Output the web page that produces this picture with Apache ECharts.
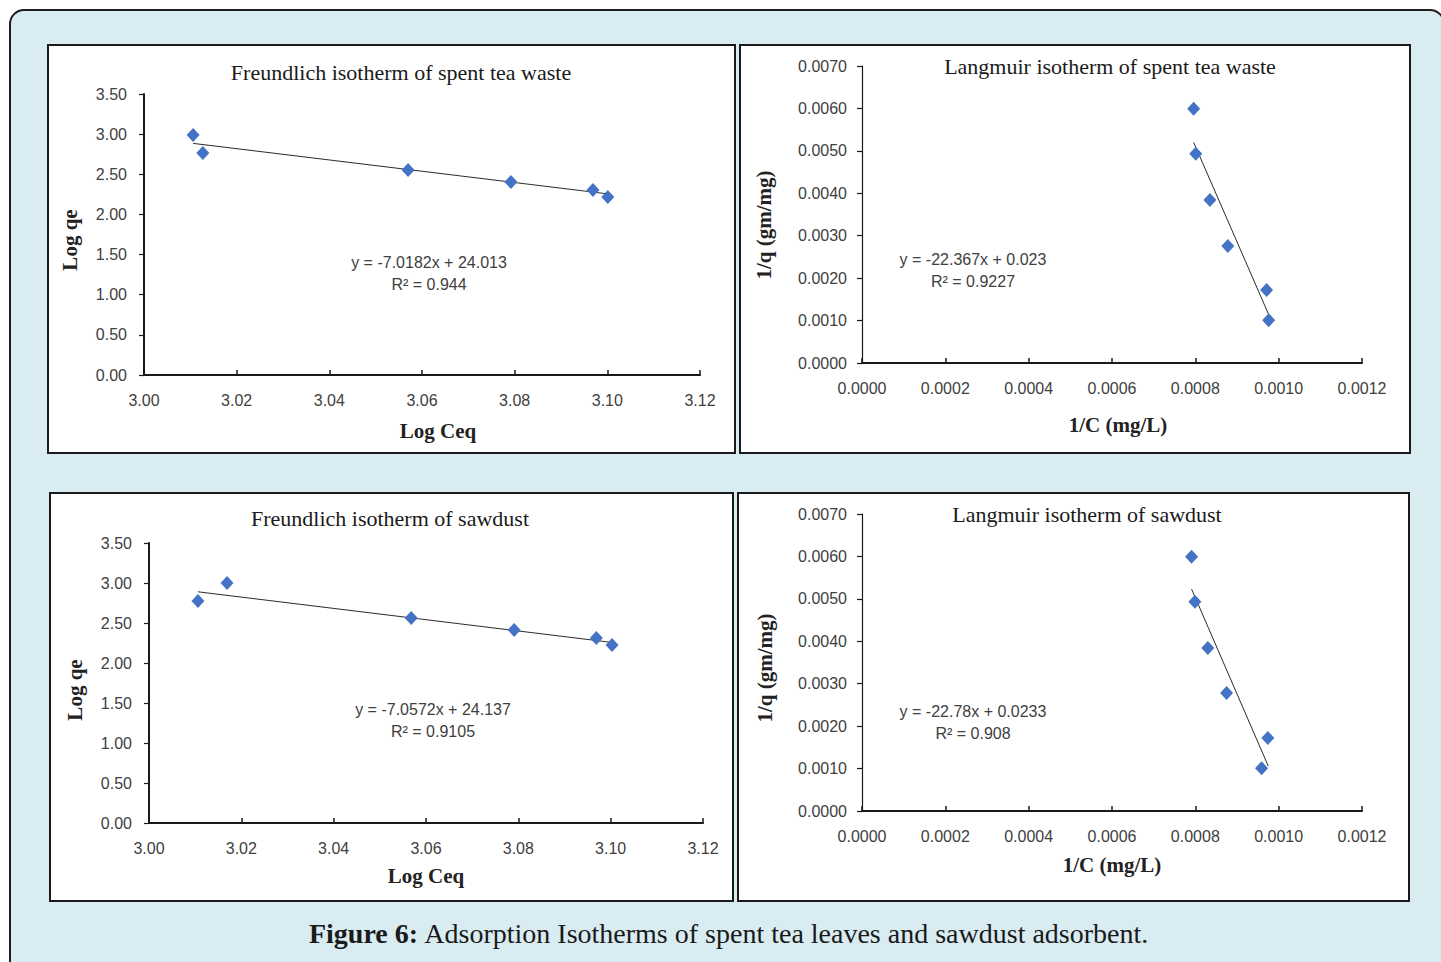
<!DOCTYPE html>
<html>
<head>
<meta charset="utf-8">
<script src="https://cdn.jsdelivr.net/npm/echarts@6/dist/echarts.min.js"></script>
<style>
html,body{margin:0;padding:0;background:#fff;}
#chart{width:1441px;height:962px;}
</style>
</head>
<body>
<div id="chart"></div>
<script>
// ---- data ----
const freundXTicks = ['3.00','3.02','3.04','3.06','3.08','3.10','3.12'];
const freundYTicks = ['0.00','0.50','1.00','1.50','2.00','2.50','3.00','3.50'];
const langXTicks = ['0.0000','0.0002','0.0004','0.0006','0.0008','0.0010','0.0012'];
const langYTicks = ['0.0000','0.0010','0.0020','0.0030','0.0040','0.0050','0.0060','0.0070'];

const freundTeaX = [3.0106, 3.0127, 3.0570, 3.0792, 3.0969, 3.1001];
const freundTeaY = [2.990, 2.765, 2.553, 2.404, 2.304, 2.217];
const freundTeaTrendX = [3.0106, 3.1001];
const freundTeaTrendY = [2.885, 2.256];

const langTeaX = [0.000796, 0.000801, 0.000835, 0.000878, 0.000971, 0.000976];
const langTeaY = [0.00599, 0.00493, 0.00384, 0.00276, 0.00172, 0.00101];
const langTeaTrendX = [0.000796, 0.000977];
const langTeaTrendY = [0.00520, 0.00112];

const freundSawX = [3.0106, 3.0169, 3.0568, 3.0791, 3.0969, 3.1003];
const freundSawY = [2.775, 3.000, 2.563, 2.413, 2.313, 2.225];
const freundSawTrendX = [3.0106, 3.1003];
const freundSawTrendY = [2.890, 2.257];

const langSawX = [0.000791, 0.000799, 0.000830, 0.000875, 0.000974, 0.000959];
const langSawY = [0.00599, 0.00493, 0.00384, 0.00278, 0.00172, 0.00101];
const langSawTrendX = [0.000791, 0.000975];
const langSawTrendY = [0.00523, 0.00106];

const titles = ['Freundlich isotherm of spent tea waste','Langmuir isotherm of spent tea waste','Freundlich isotherm of sawdust','Langmuir isotherm of sawdust'];
const equations = [['y = -7.0182x + 24.013','R² = 0.944'],['y = -22.367x + 0.023','R² = 0.9227'],['y = -7.0572x + 24.137','R² = 0.9105'],['y = -22.78x + 0.0233','R² = 0.908']];
const xNames = ['Log Ceq','1/C (mg/L)','Log Ceq','1/C (mg/L)'];
const yNames = ['Log qe','1/q (gm/mg)','Log qe','1/q (gm/mg)'];
const caption = ['Figure 6:',' Adsorption Isotherms of spent tea leaves and sawdust adsorbent.'];

// ---- build ----
const zip = (a,b) => a.map((v,i)=>[v,b[i]]);
const SANS = '"Liberation Sans", Arial, sans-serif';
const SERIF = '"Liberation Serif", "Times New Roman", serif';
const BLUE = '#4472C4';

const grids = [
  {left:144, top:94, width:556, height:281},
  {left:862, top:66, width:500, height:297},
  {left:149, top:543, width:554, height:280},
  {left:862, top:514, width:500, height:297}
];
const isLang = [false,true,false,true];

const xAxes = grids.map((g,i)=>{
  const L = isLang[i];
  const ticks = L ? langXTicks : freundXTicks;
  return {
    type:'value', gridIndex:i,
    min: Number(ticks[0]), max: Number(ticks[ticks.length-1]),
    interval: Number(ticks[1]) - Number(ticks[0]),
    axisLine:{show:true, onZero:false, lineStyle:{color:'#1a1a1a', width:2}},
    axisTick:{show:true, inside:true, length:5, lineStyle:{color:'#1a1a1a', width:1.5}},
    splitLine:{show:false},
    axisLabel:{margin:17, fontFamily:SANS, fontSize:16, color:'#404040',
      formatter:(v)=>{ const idx = Math.round((v - Number(ticks[0]))/(Number(ticks[1])-Number(ticks[0]))); return ticks[idx] || ''; }}
  };
});
const yAxes = grids.map((g,i)=>{
  const L = isLang[i];
  const ticks = L ? langYTicks : freundYTicks;
  return {
    type:'value', gridIndex:i,
    min: Number(ticks[0]), max: Number(ticks[ticks.length-1]),
    interval: Number(ticks[1]) - Number(ticks[0]),
    axisLine:{show:true, onZero:false, lineStyle:{color:'#1a1a1a', width: L ? 1.2 : 2}},
    axisTick:{show:true, inside:false, length:5, lineStyle:{color:'#1a1a1a', width:1.2}},
    splitLine:{show:false},
    axisLabel:{margin: L ? 15 : 17, fontFamily:SANS, fontSize:16, color:'#404040',
      formatter:(v)=>{ const idx = Math.round((v - Number(ticks[0]))/(Number(ticks[1])-Number(ticks[0]))); return ticks[idx] || ''; }}
  };
});

const pts = [zip(freundTeaX,freundTeaY), zip(langTeaX,langTeaY), zip(freundSawX,freundSawY), zip(langSawX,langSawY)];
const trends = [zip(freundTeaTrendX,freundTeaTrendY), zip(langTeaTrendX,langTeaTrendY), zip(freundSawTrendX,freundSawTrendY), zip(langSawTrendX,langSawTrendY)];

const series = [];
for (let i=0;i<4;i++){
  series.push({type:'line', xAxisIndex:i, yAxisIndex:i, data:trends[i], symbol:'none', silent:true,
    lineStyle:{color:'#2b2b2b', width:1}, z:2});
  series.push({type:'scatter', xAxisIndex:i, yAxisIndex:i, data:pts[i], symbol:'diamond', symbolSize:[13,14],
    itemStyle:{color:BLUE, opacity:1}, z:3});
}

const panels = [
  {x:48, y:45, w:687, h:408},
  {x:740, y:45, w:670, h:408},
  {x:50, y:493, w:683, h:408},
  {x:738, y:493, w:671, h:408}
];
const titlePos = [[401,72],[1110,66],[390,518],[1087,514]];
const eqPos = [[429,262],[973,259],[433,709],[973,711]];
const xNamePos = [[438,431],[1118,425],[426,876],[1112,865]];
const yNamePos = [[70,240],[764,225],[75,690],[765,668]];

const graphic = [];
graphic.push({type:'rect', z:-100, silent:true, shape:{x:10, y:10, width:1434, height:975, r:14},
  style:{fill:'#d8ecf1', stroke:'#1f1f1f', lineWidth:2}});
panels.forEach(p=>{
  graphic.push({type:'rect', z:-50, silent:true, shape:{x:p.x, y:p.y, width:p.w, height:p.h},
    style:{fill:'#ffffff', stroke:'#1a1a1a', lineWidth:2}});
});
titles.forEach((t,i)=>{
  graphic.push({type:'text', z:10, x:titlePos[i][0], y:titlePos[i][1],
    style:{text:t, font:'22px '+SERIF, fill:'#1a1a1a', align:'center', verticalAlign:'middle'}});
});
xNames.forEach((t,i)=>{
  graphic.push({type:'text', z:10, x:xNamePos[i][0], y:xNamePos[i][1],
    style:{text:t, font:'bold 21px '+SERIF, fill:'#222', align:'center', verticalAlign:'middle'}});
});
yNames.forEach((t,i)=>{
  graphic.push({type:'text', z:10, x:yNamePos[i][0], y:yNamePos[i][1], rotation:Math.PI/2,
    style:{text:t, font:'bold 21px '+SERIF, fill:'#222', align:'center', verticalAlign:'middle'}});
});
equations.forEach((e,i)=>{
  graphic.push({type:'text', z:10, x:eqPos[i][0], y:eqPos[i][1],
    style:{text:e[0], font:'16px '+SANS, fill:'#404040', align:'center', verticalAlign:'middle'}});
  graphic.push({type:'text', z:10, x:eqPos[i][0], y:eqPos[i][1]+22,
    style:{text:e[1], font:'16px '+SANS, fill:'#404040', align:'center', verticalAlign:'middle'}});
});
graphic.push({type:'text', z:10, x:729, y:933,
  style:{text:'{b|'+caption[0]+'}{n|'+caption[1]+'}', align:'center', verticalAlign:'middle',
    rich:{b:{fontFamily:SERIF, fontWeight:'bold', fontSize:28, fill:'#1a1a1a', color:'#1a1a1a'},
          n:{fontFamily:SERIF, fontSize:28, fill:'#1a1a1a', color:'#1a1a1a'}}}});

const chart = echarts.init(document.getElementById('chart'), null, {renderer:'svg'});
chart.setOption({
  backgroundColor:'#ffffff',
  animation:false,
  grid:grids,
  xAxis:xAxes,
  yAxis:yAxes,
  series:series,
  graphic:graphic
});
</script>
</body>
</html>
